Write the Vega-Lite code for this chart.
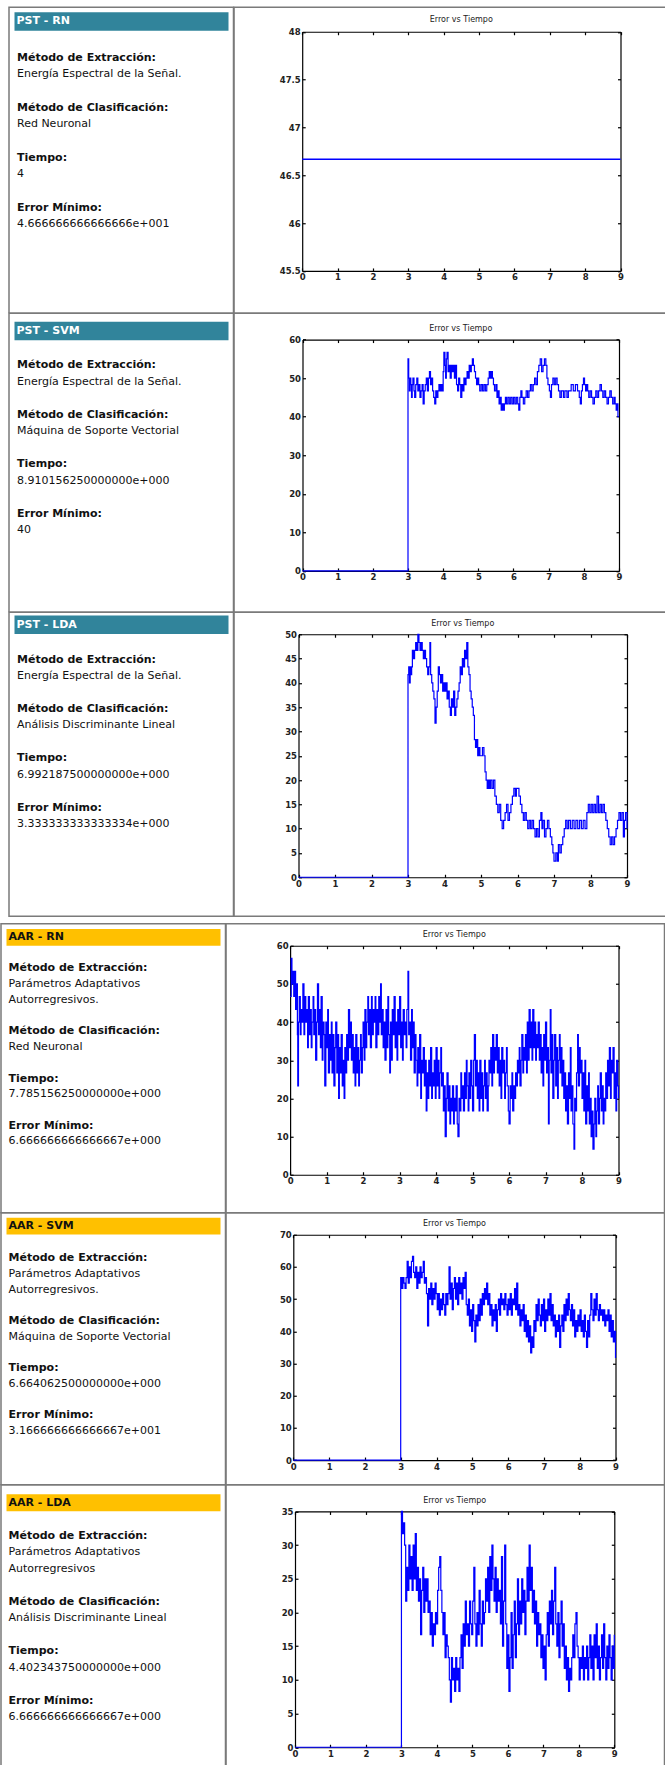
{
  "$schema": "https://vega.github.io/schema/vega-lite/v6.json",
  "background": "white",
  "padding": {"left": 0, "top": 6.25, "right": 0, "bottom": 0},
  "config": {
    "view": {"stroke": null},
    "title": {"font": "DejaVu Sans", "fontSize": 8, "fontWeight": "normal", "color": "#222", "anchor": "middle"},
    "axis": {"grid": false, "domainColor": "#000", "domainWidth": 1.2, "tickColor": "#000", "tickWidth": 1.2, "tickSize": -3,
             "labelFont": "DejaVu Sans", "labelFontSize": 8.5, "labelFontWeight": "bold", "labelColor": "#222",
             "labelPadding": 5, "labelFlush": false, "labelOverlap": false, "labelBound": false}
  },
  "datasets": {
    "texts": [
      {"panel": "PST - RN", "line": 0, "kind": "head", "txt": "PST - RN"},
      {"panel": "PST - RN", "line": 1, "kind": "label", "txt": "Método de Extracción:"},
      {"panel": "PST - RN", "line": 2, "kind": "value", "txt": "Energía Espectral de la Señal."},
      {"panel": "PST - RN", "line": 4, "kind": "label", "txt": "Método de Clasificación:"},
      {"panel": "PST - RN", "line": 5, "kind": "value", "txt": "Red Neuronal"},
      {"panel": "PST - RN", "line": 7, "kind": "label", "txt": "Tiempo:"},
      {"panel": "PST - RN", "line": 8, "kind": "value", "txt": "4"},
      {"panel": "PST - RN", "line": 10, "kind": "label", "txt": "Error Mínimo:"},
      {"panel": "PST - RN", "line": 11, "kind": "value", "txt": "4.666666666666666e+001"},
      {"panel": "PST - SVM", "line": 0, "kind": "head", "txt": "PST - SVM"},
      {"panel": "PST - SVM", "line": 1, "kind": "label", "txt": "Método de Extracción:"},
      {"panel": "PST - SVM", "line": 2, "kind": "value", "txt": "Energía Espectral de la Señal."},
      {"panel": "PST - SVM", "line": 4, "kind": "label", "txt": "Método de Clasificación:"},
      {"panel": "PST - SVM", "line": 5, "kind": "value", "txt": "Máquina de Soporte Vectorial"},
      {"panel": "PST - SVM", "line": 7, "kind": "label", "txt": "Tiempo:"},
      {"panel": "PST - SVM", "line": 8, "kind": "value", "txt": "8.910156250000000e+000"},
      {"panel": "PST - SVM", "line": 10, "kind": "label", "txt": "Error Mínimo:"},
      {"panel": "PST - SVM", "line": 11, "kind": "value", "txt": "40"},
      {"panel": "PST - LDA", "line": 0, "kind": "head", "txt": "PST - LDA"},
      {"panel": "PST - LDA", "line": 1, "kind": "label", "txt": "Método de Extracción:"},
      {"panel": "PST - LDA", "line": 2, "kind": "value", "txt": "Energía Espectral de la Señal."},
      {"panel": "PST - LDA", "line": 4, "kind": "label", "txt": "Método de Clasificación:"},
      {"panel": "PST - LDA", "line": 5, "kind": "value", "txt": "Análisis Discriminante Lineal"},
      {"panel": "PST - LDA", "line": 7, "kind": "label", "txt": "Tiempo:"},
      {"panel": "PST - LDA", "line": 8, "kind": "value", "txt": "6.992187500000000e+000"},
      {"panel": "PST - LDA", "line": 10, "kind": "label", "txt": "Error Mínimo:"},
      {"panel": "PST - LDA", "line": 11, "kind": "value", "txt": "3.333333333333334e+000"},
      {"panel": "AAR - RN", "line": 0, "kind": "head", "txt": "AAR - RN"},
      {"panel": "AAR - RN", "line": 1, "kind": "label", "txt": "Método de Extracción:"},
      {"panel": "AAR - RN", "line": 2, "kind": "value", "txt": "Parámetros Adaptativos"},
      {"panel": "AAR - RN", "line": 3, "kind": "value", "txt": "Autorregresivos."},
      {"panel": "AAR - RN", "line": 5, "kind": "label", "txt": "Método de Clasificación:"},
      {"panel": "AAR - RN", "line": 6, "kind": "value", "txt": "Red Neuronal"},
      {"panel": "AAR - RN", "line": 8, "kind": "label", "txt": "Tiempo:"},
      {"panel": "AAR - RN", "line": 9, "kind": "value", "txt": "7.785156250000000e+000"},
      {"panel": "AAR - RN", "line": 11, "kind": "label", "txt": "Error Mínimo:"},
      {"panel": "AAR - RN", "line": 12, "kind": "value", "txt": "6.666666666666667e+000"},
      {"panel": "AAR - SVM", "line": 0, "kind": "head", "txt": "AAR - SVM"},
      {"panel": "AAR - SVM", "line": 1, "kind": "label", "txt": "Método de Extracción:"},
      {"panel": "AAR - SVM", "line": 2, "kind": "value", "txt": "Parámetros Adaptativos"},
      {"panel": "AAR - SVM", "line": 3, "kind": "value", "txt": "Autorregresivos."},
      {"panel": "AAR - SVM", "line": 5, "kind": "label", "txt": "Método de Clasificación:"},
      {"panel": "AAR - SVM", "line": 6, "kind": "value", "txt": "Máquina de Soporte Vectorial"},
      {"panel": "AAR - SVM", "line": 8, "kind": "label", "txt": "Tiempo:"},
      {"panel": "AAR - SVM", "line": 9, "kind": "value", "txt": "6.664062500000000e+000"},
      {"panel": "AAR - SVM", "line": 11, "kind": "label", "txt": "Error Mínimo:"},
      {"panel": "AAR - SVM", "line": 12, "kind": "value", "txt": "3.166666666666667e+001"},
      {"panel": "AAR - LDA", "line": 0, "kind": "head", "txt": "AAR - LDA"},
      {"panel": "AAR - LDA", "line": 1, "kind": "label", "txt": "Método de Extracción:"},
      {"panel": "AAR - LDA", "line": 2, "kind": "value", "txt": "Parámetros Adaptativos"},
      {"panel": "AAR - LDA", "line": 3, "kind": "value", "txt": "Autorregresivos"},
      {"panel": "AAR - LDA", "line": 5, "kind": "label", "txt": "Método de Clasificación:"},
      {"panel": "AAR - LDA", "line": 6, "kind": "value", "txt": "Análisis Discriminante Lineal"},
      {"panel": "AAR - LDA", "line": 8, "kind": "label", "txt": "Tiempo:"},
      {"panel": "AAR - LDA", "line": 9, "kind": "value", "txt": "4.402343750000000e+000"},
      {"panel": "AAR - LDA", "line": 11, "kind": "label", "txt": "Error Mínimo:"},
      {"panel": "AAR - LDA", "line": 12, "kind": "value", "txt": "6.666666666666667e+000"}
    ],
    "pst_rn": [{"t": 0, "e": 46.667}, {"t": 9, "e": 46.667}],
    "pst_svm": [
      {"t":0,"e":0},{"t":3.0,"e":55},{"t":3.02,"e":50},{"t":3.04,"e":46.7},{"t":3.06,"e":50},{"t":3.08,"e":48.3},{"t":3.1,"e":45},{"t":3.12,"e":48.3},{"t":3.14,"e":50},{"t":3.17,"e":46.7},{"t":3.19,"e":45},{"t":3.22,"e":48.3},{"t":3.25,"e":50},{"t":3.28,"e":46.7},{"t":3.31,"e":48.3},{"t":3.34,"e":45},{"t":3.37,"e":46.7},{"t":3.4,"e":48.3},{"t":3.43,"e":43.3},{"t":3.46,"e":46.7},{"t":3.49,"e":48.3},{"t":3.52,"e":50},{"t":3.55,"e":46.7},{"t":3.58,"e":50},{"t":3.61,"e":51.7},{"t":3.64,"e":48.3},{"t":3.67,"e":50},{"t":3.7,"e":46.7},{"t":3.73,"e":45},{"t":3.76,"e":43.3},{"t":3.79,"e":46.7},{"t":3.82,"e":45},{"t":3.85,"e":46.7},{"t":3.88,"e":48.3},{"t":3.91,"e":46.7},{"t":3.94,"e":48.3},{"t":3.97,"e":46.7},{"t":4.0,"e":51.7},{"t":4.02,"e":56.7},{"t":4.05,"e":53.3},{"t":4.07,"e":50},{"t":4.09,"e":55},{"t":4.11,"e":56.7},{"t":4.14,"e":51.7},{"t":4.17,"e":53.3},{"t":4.2,"e":50},{"t":4.23,"e":53.3},{"t":4.26,"e":51.7},{"t":4.29,"e":53.3},{"t":4.32,"e":50},{"t":4.35,"e":53.3},{"t":4.38,"e":48.3},{"t":4.41,"e":46.7},{"t":4.44,"e":50},{"t":4.47,"e":48.3},{"t":4.5,"e":45},{"t":4.53,"e":48.3},{"t":4.56,"e":46.7},{"t":4.59,"e":50},{"t":4.62,"e":48.3},{"t":4.65,"e":50},{"t":4.68,"e":51.7},{"t":4.71,"e":50},{"t":4.74,"e":53.3},{"t":4.77,"e":51.7},{"t":4.8,"e":53.3},{"t":4.83,"e":55},{"t":4.86,"e":53.3},{"t":4.89,"e":51.7},{"t":4.92,"e":50},{"t":4.95,"e":48.3},{"t":4.98,"e":50},{"t":5.01,"e":48.3},{"t":5.04,"e":46.7},{"t":5.08,"e":48.3},{"t":5.12,"e":46.7},{"t":5.16,"e":48.3},{"t":5.2,"e":46.7},{"t":5.24,"e":48.3},{"t":5.28,"e":50},{"t":5.31,"e":51.7},{"t":5.34,"e":50},{"t":5.37,"e":51.7},{"t":5.4,"e":50},{"t":5.43,"e":48.3},{"t":5.46,"e":46.7},{"t":5.5,"e":48.3},{"t":5.53,"e":45},{"t":5.56,"e":46.7},{"t":5.59,"e":43.3},{"t":5.62,"e":45},{"t":5.65,"e":41.7},{"t":5.68,"e":43.3},{"t":5.71,"e":41.7},{"t":5.74,"e":43.3},{"t":5.77,"e":45},{"t":5.8,"e":43.3},{"t":5.84,"e":45},{"t":5.88,"e":43.3},{"t":5.92,"e":45},{"t":5.96,"e":43.3},{"t":6.0,"e":45},{"t":6.04,"e":43.3},{"t":6.08,"e":45},{"t":6.12,"e":43.3},{"t":6.15,"e":41.7},{"t":6.18,"e":45},{"t":6.21,"e":46.7},{"t":6.24,"e":45},{"t":6.28,"e":43.3},{"t":6.32,"e":45},{"t":6.36,"e":46.7},{"t":6.4,"e":45},{"t":6.44,"e":46.7},{"t":6.48,"e":48.3},{"t":6.52,"e":46.7},{"t":6.56,"e":48.3},{"t":6.6,"e":50},{"t":6.64,"e":48.3},{"t":6.68,"e":51.7},{"t":6.72,"e":53.3},{"t":6.76,"e":55},{"t":6.8,"e":51.7},{"t":6.84,"e":53.3},{"t":6.88,"e":55},{"t":6.92,"e":53.3},{"t":6.95,"e":50},{"t":6.98,"e":48.3},{"t":7.02,"e":46.7},{"t":7.05,"e":45},{"t":7.08,"e":48.3},{"t":7.12,"e":50},{"t":7.16,"e":48.3},{"t":7.2,"e":50},{"t":7.24,"e":48.3},{"t":7.28,"e":46.7},{"t":7.32,"e":45},{"t":7.36,"e":46.7},{"t":7.42,"e":45},{"t":7.46,"e":46.7},{"t":7.52,"e":45},{"t":7.56,"e":46.7},{"t":7.64,"e":48.3},{"t":7.7,"e":46.7},{"t":7.76,"e":48.3},{"t":7.82,"e":46.7},{"t":7.87,"e":45},{"t":7.9,"e":43.3},{"t":7.93,"e":46.7},{"t":7.96,"e":48.3},{"t":7.99,"e":50},{"t":8.02,"e":48.3},{"t":8.05,"e":46.7},{"t":8.08,"e":48.3},{"t":8.11,"e":46.7},{"t":8.14,"e":45},{"t":8.18,"e":46.7},{"t":8.22,"e":45},{"t":8.26,"e":43.3},{"t":8.3,"e":45},{"t":8.34,"e":46.7},{"t":8.38,"e":45},{"t":8.42,"e":46.7},{"t":8.46,"e":48.3},{"t":8.5,"e":46.7},{"t":8.54,"e":45},{"t":8.58,"e":46.7},{"t":8.62,"e":45},{"t":8.66,"e":43.3},{"t":8.7,"e":45},{"t":8.74,"e":46.7},{"t":8.78,"e":45},{"t":8.82,"e":43.3},{"t":8.86,"e":45},{"t":8.89,"e":43.3},{"t":8.92,"e":41.7},{"t":8.95,"e":43.3},{"t":8.97,"e":40},{"t":9.0,"e":40}
    ],
    "pst_lda": [
      {"t":0,"e":0},{"t":3.0,"e":41.7},{"t":3.02,"e":43.3},{"t":3.04,"e":40},{"t":3.06,"e":43.3},{"t":3.08,"e":41.7},{"t":3.1,"e":43.3},{"t":3.12,"e":46.7},{"t":3.15,"e":45},{"t":3.18,"e":46.7},{"t":3.21,"e":48.3},{"t":3.24,"e":46.7},{"t":3.27,"e":50},{"t":3.3,"e":48.3},{"t":3.33,"e":46.7},{"t":3.36,"e":48.3},{"t":3.39,"e":46.7},{"t":3.42,"e":45},{"t":3.45,"e":46.7},{"t":3.48,"e":45},{"t":3.51,"e":43.3},{"t":3.54,"e":41.7},{"t":3.57,"e":43.3},{"t":3.6,"e":48.3},{"t":3.62,"e":41.7},{"t":3.65,"e":40},{"t":3.68,"e":38.3},{"t":3.71,"e":36.7},{"t":3.74,"e":31.7},{"t":3.77,"e":35},{"t":3.8,"e":38.3},{"t":3.83,"e":43.3},{"t":3.86,"e":41.7},{"t":3.89,"e":40},{"t":3.92,"e":41.7},{"t":3.95,"e":38.3},{"t":3.98,"e":40},{"t":4.01,"e":38.3},{"t":4.04,"e":40},{"t":4.07,"e":36.7},{"t":4.1,"e":38.3},{"t":4.13,"e":35},{"t":4.16,"e":33.3},{"t":4.19,"e":36.7},{"t":4.22,"e":35},{"t":4.25,"e":38.3},{"t":4.28,"e":33.3},{"t":4.31,"e":35},{"t":4.34,"e":36.7},{"t":4.37,"e":38.3},{"t":4.4,"e":40},{"t":4.43,"e":43.3},{"t":4.46,"e":41.7},{"t":4.49,"e":45},{"t":4.52,"e":43.3},{"t":4.55,"e":46.7},{"t":4.58,"e":45},{"t":4.61,"e":48.3},{"t":4.64,"e":43.3},{"t":4.67,"e":41.7},{"t":4.7,"e":38.3},{"t":4.73,"e":36.7},{"t":4.76,"e":35},{"t":4.79,"e":33.3},{"t":4.82,"e":28.3},{"t":4.85,"e":26.7},{"t":4.88,"e":28.3},{"t":4.91,"e":25},{"t":4.94,"e":26.7},{"t":4.97,"e":25},{"t":5.04,"e":26.7},{"t":5.08,"e":25},{"t":5.11,"e":21.7},{"t":5.14,"e":20},{"t":5.17,"e":18.3},{"t":5.2,"e":20},{"t":5.23,"e":18.3},{"t":5.26,"e":20},{"t":5.3,"e":18.3},{"t":5.34,"e":20},{"t":5.38,"e":16.7},{"t":5.42,"e":15},{"t":5.46,"e":13.3},{"t":5.5,"e":15},{"t":5.54,"e":11.7},{"t":5.58,"e":10},{"t":5.62,"e":11.7},{"t":5.66,"e":13.3},{"t":5.7,"e":15},{"t":5.74,"e":11.7},{"t":5.78,"e":13.3},{"t":5.82,"e":15},{"t":5.86,"e":16.7},{"t":5.9,"e":18.3},{"t":5.94,"e":16.7},{"t":5.97,"e":18.3},{"t":6.0,"e":18.3},{"t":6.04,"e":16.7},{"t":6.08,"e":15},{"t":6.12,"e":13.3},{"t":6.16,"e":11.7},{"t":6.2,"e":13.3},{"t":6.24,"e":11.7},{"t":6.28,"e":10},{"t":6.32,"e":11.7},{"t":6.36,"e":10},{"t":6.4,"e":11.7},{"t":6.44,"e":10},{"t":6.48,"e":8.3},{"t":6.52,"e":10},{"t":6.56,"e":8.3},{"t":6.6,"e":11.7},{"t":6.64,"e":13.3},{"t":6.67,"e":10},{"t":6.7,"e":11.7},{"t":6.74,"e":8.3},{"t":6.78,"e":10},{"t":6.82,"e":11.7},{"t":6.86,"e":10},{"t":6.9,"e":8.3},{"t":6.94,"e":6.7},{"t":6.97,"e":5},{"t":7.0,"e":3.3},{"t":7.05,"e":5},{"t":7.09,"e":3.3},{"t":7.12,"e":6.7},{"t":7.16,"e":5},{"t":7.2,"e":6.7},{"t":7.24,"e":8.3},{"t":7.28,"e":10},{"t":7.32,"e":11.7},{"t":7.36,"e":10},{"t":7.4,"e":11.7},{"t":7.45,"e":10},{"t":7.5,"e":11.7},{"t":7.55,"e":10},{"t":7.6,"e":11.7},{"t":7.65,"e":10},{"t":7.7,"e":11.7},{"t":7.75,"e":10},{"t":7.8,"e":11.7},{"t":7.85,"e":10},{"t":7.9,"e":13.3},{"t":7.94,"e":15},{"t":7.98,"e":13.3},{"t":8.02,"e":15},{"t":8.06,"e":13.3},{"t":8.1,"e":15},{"t":8.14,"e":13.3},{"t":8.18,"e":16.7},{"t":8.22,"e":13.3},{"t":8.26,"e":15},{"t":8.3,"e":13.3},{"t":8.34,"e":15},{"t":8.38,"e":13.3},{"t":8.42,"e":11.7},{"t":8.46,"e":10},{"t":8.5,"e":8.3},{"t":8.54,"e":6.7},{"t":8.58,"e":8.3},{"t":8.62,"e":6.7},{"t":8.66,"e":8.3},{"t":8.7,"e":10},{"t":8.74,"e":11.7},{"t":8.78,"e":13.3},{"t":8.82,"e":11.7},{"t":8.86,"e":13.3},{"t":8.9,"e":8.3},{"t":8.93,"e":11.7},{"t":8.96,"e":13.3},{"t":9.0,"e":10}
    ],
    "aar_rn": [
      {"t":0.0,"e":46.7},{"t":0.03,"e":56.7},{"t":0.05,"e":50},{"t":0.08,"e":53.3},{"t":0.1,"e":46.7},{"t":0.13,"e":53.3},{"t":0.15,"e":43.3},{"t":0.18,"e":50},{"t":0.2,"e":36.7},{"t":0.21,"e":23.3},{"t":0.23,"e":40},{"t":0.25,"e":46.7},{"t":0.28,"e":36.7},{"t":0.3,"e":43.3},{"t":0.33,"e":40},{"t":0.35,"e":50},{"t":0.38,"e":36.7},{"t":0.4,"e":46.7},{"t":0.43,"e":40},{"t":0.45,"e":43.3},{"t":0.48,"e":33.3},{"t":0.5,"e":46.7},{"t":0.53,"e":36.7},{"t":0.55,"e":43.3},{"t":0.58,"e":33.3},{"t":0.6,"e":40},{"t":0.63,"e":46.7},{"t":0.65,"e":36.7},{"t":0.68,"e":43.3},{"t":0.7,"e":30},{"t":0.73,"e":40},{"t":0.75,"e":50},{"t":0.78,"e":36.7},{"t":0.8,"e":43.3},{"t":0.83,"e":33.3},{"t":0.85,"e":46.7},{"t":0.88,"e":30},{"t":0.9,"e":40},{"t":0.93,"e":36.7},{"t":0.95,"e":23.3},{"t":0.98,"e":40},
      {"t":1.0,"e":33.3},{"t":1.03,"e":43.3},{"t":1.05,"e":26.7},{"t":1.08,"e":36.7},{"t":1.1,"e":30},{"t":1.13,"e":40},{"t":1.15,"e":26.7},{"t":1.18,"e":36.7},{"t":1.2,"e":23.3},{"t":1.23,"e":33.3},{"t":1.25,"e":40},{"t":1.28,"e":26.7},{"t":1.3,"e":36.7},{"t":1.33,"e":20},{"t":1.35,"e":33.3},{"t":1.38,"e":26.7},{"t":1.4,"e":36.7},{"t":1.43,"e":23.3},{"t":1.45,"e":30},{"t":1.48,"e":20},{"t":1.5,"e":33.3},{"t":1.53,"e":26.7},{"t":1.55,"e":36.7},{"t":1.58,"e":30},{"t":1.6,"e":43.3},{"t":1.63,"e":33.3},{"t":1.65,"e":40},{"t":1.68,"e":30},{"t":1.7,"e":36.7},{"t":1.73,"e":26.7},{"t":1.75,"e":33.3},{"t":1.78,"e":23.3},{"t":1.8,"e":36.7},{"t":1.83,"e":26.7},{"t":1.85,"e":33.3},{"t":1.88,"e":23.3},{"t":1.9,"e":30},{"t":1.93,"e":36.7},{"t":1.95,"e":26.7},{"t":1.98,"e":33.3},
      {"t":2.0,"e":40},{"t":2.03,"e":30},{"t":2.05,"e":43.3},{"t":2.08,"e":33.3},{"t":2.1,"e":40},{"t":2.13,"e":46.7},{"t":2.15,"e":36.7},{"t":2.18,"e":43.3},{"t":2.2,"e":33.3},{"t":2.23,"e":46.7},{"t":2.25,"e":36.7},{"t":2.28,"e":43.3},{"t":2.3,"e":40},{"t":2.33,"e":46.7},{"t":2.35,"e":33.3},{"t":2.38,"e":43.3},{"t":2.4,"e":36.7},{"t":2.43,"e":46.7},{"t":2.45,"e":40},{"t":2.48,"e":50},{"t":2.5,"e":36.7},{"t":2.53,"e":43.3},{"t":2.55,"e":33.3},{"t":2.58,"e":40},{"t":2.6,"e":30},{"t":2.63,"e":43.3},{"t":2.65,"e":33.3},{"t":2.68,"e":46.7},{"t":2.7,"e":36.7},{"t":2.73,"e":26.7},{"t":2.75,"e":40},{"t":2.78,"e":30},{"t":2.8,"e":43.3},{"t":2.83,"e":36.7},{"t":2.85,"e":46.7},{"t":2.88,"e":33.3},{"t":2.9,"e":40},{"t":2.93,"e":30},{"t":2.95,"e":43.3},{"t":2.98,"e":36.7},
      {"t":3.0,"e":46.7},{"t":3.03,"e":33.3},{"t":3.05,"e":40},{"t":3.08,"e":30},{"t":3.1,"e":43.3},{"t":3.13,"e":36.7},{"t":3.15,"e":40},{"t":3.18,"e":33.3},{"t":3.2,"e":43.3},{"t":3.23,"e":53.3},{"t":3.25,"e":36.7},{"t":3.28,"e":40},{"t":3.3,"e":30},{"t":3.33,"e":43.3},{"t":3.35,"e":33.3},{"t":3.38,"e":40},{"t":3.4,"e":26.7},{"t":3.43,"e":36.7},{"t":3.45,"e":30},{"t":3.48,"e":23.3},{"t":3.5,"e":33.3},{"t":3.53,"e":26.7},{"t":3.55,"e":36.7},{"t":3.58,"e":20},{"t":3.6,"e":30},{"t":3.63,"e":26.7},{"t":3.65,"e":33.3},{"t":3.68,"e":23.3},{"t":3.7,"e":30},{"t":3.73,"e":16.7},{"t":3.75,"e":26.7},{"t":3.78,"e":20},{"t":3.8,"e":30},{"t":3.83,"e":23.3},{"t":3.85,"e":33.3},{"t":3.88,"e":20},{"t":3.9,"e":26.7},{"t":3.93,"e":23.3},{"t":3.95,"e":30},{"t":3.98,"e":20},
      {"t":4.0,"e":33.3},{"t":4.03,"e":23.3},{"t":4.05,"e":30},{"t":4.08,"e":20},{"t":4.1,"e":26.7},{"t":4.13,"e":33.3},{"t":4.15,"e":23.3},{"t":4.18,"e":26.7},{"t":4.2,"e":16.7},{"t":4.23,"e":23.3},{"t":4.25,"e":10},{"t":4.28,"e":20},{"t":4.3,"e":26.7},{"t":4.33,"e":16.7},{"t":4.35,"e":23.3},{"t":4.38,"e":13.3},{"t":4.4,"e":20},{"t":4.43,"e":16.7},{"t":4.45,"e":23.3},{"t":4.48,"e":13.3},{"t":4.5,"e":20},{"t":4.53,"e":16.7},{"t":4.55,"e":23.3},{"t":4.58,"e":13.3},{"t":4.6,"e":10},{"t":4.63,"e":20},{"t":4.65,"e":16.7},{"t":4.68,"e":26.7},{"t":4.7,"e":20},{"t":4.73,"e":23.3},{"t":4.75,"e":16.7},{"t":4.78,"e":26.7},{"t":4.8,"e":20},{"t":4.83,"e":30},{"t":4.85,"e":23.3},{"t":4.88,"e":16.7},{"t":4.9,"e":26.7},{"t":4.93,"e":20},{"t":4.95,"e":30},{"t":4.98,"e":23.3},
      {"t":5.0,"e":16.7},{"t":5.03,"e":30},{"t":5.05,"e":36.7},{"t":5.08,"e":23.3},{"t":5.1,"e":30},{"t":5.13,"e":20},{"t":5.15,"e":26.7},{"t":5.18,"e":16.7},{"t":5.2,"e":30},{"t":5.23,"e":20},{"t":5.25,"e":26.7},{"t":5.28,"e":16.7},{"t":5.3,"e":23.3},{"t":5.33,"e":30},{"t":5.35,"e":20},{"t":5.38,"e":26.7},{"t":5.4,"e":16.7},{"t":5.43,"e":23.3},{"t":5.45,"e":30},{"t":5.48,"e":26.7},{"t":5.5,"e":33.3},{"t":5.53,"e":23.3},{"t":5.55,"e":36.7},{"t":5.58,"e":26.7},{"t":5.6,"e":33.3},{"t":5.63,"e":30},{"t":5.65,"e":36.7},{"t":5.68,"e":26.7},{"t":5.7,"e":33.3},{"t":5.73,"e":23.3},{"t":5.75,"e":30},{"t":5.78,"e":20},{"t":5.8,"e":33.3},{"t":5.83,"e":26.7},{"t":5.85,"e":30},{"t":5.88,"e":20},{"t":5.9,"e":26.7},{"t":5.93,"e":33.3},{"t":5.95,"e":23.3},{"t":5.98,"e":16.7},
      {"t":6.0,"e":13.3},{"t":6.03,"e":23.3},{"t":6.05,"e":20},{"t":6.08,"e":26.7},{"t":6.1,"e":16.7},{"t":6.13,"e":23.3},{"t":6.15,"e":20},{"t":6.18,"e":26.7},{"t":6.2,"e":23.3},{"t":6.23,"e":30},{"t":6.25,"e":26.7},{"t":6.28,"e":33.3},{"t":6.3,"e":23.3},{"t":6.33,"e":30},{"t":6.35,"e":36.7},{"t":6.38,"e":26.7},{"t":6.4,"e":33.3},{"t":6.43,"e":30},{"t":6.45,"e":36.7},{"t":6.48,"e":26.7},{"t":6.5,"e":40},{"t":6.53,"e":30},{"t":6.55,"e":43.3},{"t":6.58,"e":33.3},{"t":6.6,"e":40},{"t":6.63,"e":30},{"t":6.65,"e":43.3},{"t":6.68,"e":33.3},{"t":6.7,"e":40},{"t":6.73,"e":30},{"t":6.75,"e":36.7},{"t":6.78,"e":33.3},{"t":6.8,"e":40},{"t":6.83,"e":30},{"t":6.85,"e":36.7},{"t":6.88,"e":26.7},{"t":6.9,"e":33.3},{"t":6.93,"e":23.3},{"t":6.95,"e":36.7},{"t":6.98,"e":30},
      {"t":7.0,"e":40},{"t":7.03,"e":26.7},{"t":7.05,"e":33.3},{"t":7.08,"e":13.3},{"t":7.1,"e":30},{"t":7.13,"e":43.3},{"t":7.15,"e":26.7},{"t":7.18,"e":36.7},{"t":7.2,"e":20},{"t":7.23,"e":30},{"t":7.25,"e":36.7},{"t":7.28,"e":23.3},{"t":7.3,"e":33.3},{"t":7.33,"e":20},{"t":7.35,"e":30},{"t":7.38,"e":36.7},{"t":7.4,"e":26.7},{"t":7.43,"e":33.3},{"t":7.45,"e":23.3},{"t":7.48,"e":30},{"t":7.5,"e":20},{"t":7.53,"e":26.7},{"t":7.55,"e":16.7},{"t":7.58,"e":23.3},{"t":7.6,"e":13.3},{"t":7.63,"e":26.7},{"t":7.65,"e":20},{"t":7.68,"e":33.3},{"t":7.7,"e":16.7},{"t":7.73,"e":23.3},{"t":7.75,"e":13.3},{"t":7.78,"e":6.7},{"t":7.8,"e":20},{"t":7.83,"e":16.7},{"t":7.85,"e":26.7},{"t":7.88,"e":36.7},{"t":7.9,"e":23.3},{"t":7.93,"e":33.3},{"t":7.95,"e":26.7},{"t":7.98,"e":30},
      {"t":8.0,"e":20},{"t":8.03,"e":26.7},{"t":8.05,"e":16.7},{"t":8.08,"e":30},{"t":8.1,"e":13.3},{"t":8.13,"e":23.3},{"t":8.15,"e":16.7},{"t":8.18,"e":26.7},{"t":8.2,"e":13.3},{"t":8.23,"e":20},{"t":8.25,"e":10},{"t":8.28,"e":16.7},{"t":8.3,"e":6.7},{"t":8.33,"e":13.3},{"t":8.35,"e":20},{"t":8.38,"e":10},{"t":8.4,"e":16.7},{"t":8.43,"e":23.3},{"t":8.45,"e":13.3},{"t":8.48,"e":20},{"t":8.5,"e":26.7},{"t":8.53,"e":16.7},{"t":8.55,"e":23.3},{"t":8.58,"e":13.3},{"t":8.6,"e":20},{"t":8.63,"e":16.7},{"t":8.65,"e":26.7},{"t":8.68,"e":20},{"t":8.7,"e":30},{"t":8.73,"e":23.3},{"t":8.75,"e":33.3},{"t":8.78,"e":20},{"t":8.8,"e":30},{"t":8.83,"e":26.7},{"t":8.85,"e":33.3},{"t":8.88,"e":20},{"t":8.9,"e":26.7},{"t":8.93,"e":16.7},{"t":8.95,"e":30},{"t":8.98,"e":23.3},{"t":9.0,"e":20}
    ],
    "aar_svm": [
      {"t":0,"e":0},{"t":3.0,"e":56.7},{"t":3.03,"e":53.3},{"t":3.06,"e":56.7},{"t":3.09,"e":55},{"t":3.12,"e":53.3},{"t":3.15,"e":56.7},{"t":3.18,"e":61.7},{"t":3.21,"e":55},{"t":3.24,"e":60},{"t":3.27,"e":56.7},{"t":3.3,"e":61.7},{"t":3.33,"e":63.3},{"t":3.36,"e":58.3},{"t":3.39,"e":56.7},{"t":3.42,"e":60},{"t":3.45,"e":53.3},{"t":3.48,"e":58.3},{"t":3.51,"e":55},{"t":3.54,"e":60},{"t":3.57,"e":56.7},{"t":3.6,"e":58.3},{"t":3.63,"e":61.7},{"t":3.66,"e":55},{"t":3.69,"e":56.7},{"t":3.72,"e":51.7},{"t":3.75,"e":41.7},{"t":3.78,"e":53.3},{"t":3.81,"e":50},{"t":3.84,"e":55},{"t":3.87,"e":48.3},{"t":3.9,"e":53.3},{"t":3.93,"e":50},{"t":3.96,"e":55},{"t":3.99,"e":51.7},{"t":4.02,"e":46.7},{"t":4.05,"e":51.7},{"t":4.08,"e":45},{"t":4.11,"e":50},{"t":4.14,"e":46.7},{"t":4.17,"e":51.7},{"t":4.2,"e":48.3},{"t":4.23,"e":45},{"t":4.26,"e":51.7},{"t":4.29,"e":48.3},{"t":4.32,"e":51.7},{"t":4.35,"e":60},{"t":4.38,"e":50},{"t":4.41,"e":55},{"t":4.44,"e":46.7},{"t":4.47,"e":53.3},{"t":4.5,"e":56.7},{"t":4.53,"e":50},{"t":4.56,"e":55},{"t":4.59,"e":48.3},{"t":4.62,"e":56.7},{"t":4.65,"e":51.7},{"t":4.68,"e":55},{"t":4.71,"e":50},{"t":4.74,"e":56.7},{"t":4.77,"e":53.3},{"t":4.8,"e":58.3},{"t":4.83,"e":48.3},{"t":4.86,"e":45},{"t":4.89,"e":50},{"t":4.92,"e":41.7},{"t":4.95,"e":46.7},{"t":4.98,"e":40},{"t":5.01,"e":48.3},{"t":5.04,"e":43.3},{"t":5.07,"e":36.7},{"t":5.1,"e":45},{"t":5.13,"e":41.7},{"t":5.16,"e":48.3},{"t":5.19,"e":43.3},{"t":5.22,"e":50},{"t":5.25,"e":45},{"t":5.28,"e":51.7},{"t":5.31,"e":48.3},{"t":5.34,"e":53.3},{"t":5.37,"e":50},{"t":5.4,"e":55},{"t":5.43,"e":48.3},{"t":5.46,"e":51.7},{"t":5.49,"e":45},{"t":5.52,"e":48.3},{"t":5.55,"e":41.7},{"t":5.58,"e":46.7},{"t":5.61,"e":43.3},{"t":5.64,"e":48.3},{"t":5.67,"e":40},{"t":5.7,"e":46.7},{"t":5.73,"e":50},{"t":5.76,"e":45},{"t":5.79,"e":51.7},{"t":5.82,"e":48.3},{"t":5.85,"e":50},{"t":5.88,"e":46.7},{"t":5.91,"e":51.7},{"t":5.94,"e":48.3},{"t":5.97,"e":45},{"t":6.0,"e":50},{"t":6.03,"e":46.7},{"t":6.06,"e":51.7},{"t":6.09,"e":45},{"t":6.12,"e":50},{"t":6.15,"e":48.3},{"t":6.18,"e":53.3},{"t":6.21,"e":46.7},{"t":6.24,"e":55},{"t":6.27,"e":45},{"t":6.3,"e":48.3},{"t":6.33,"e":41.7},{"t":6.36,"e":46.7},{"t":6.39,"e":43.3},{"t":6.42,"e":48.3},{"t":6.45,"e":40},{"t":6.48,"e":45},{"t":6.51,"e":38.3},{"t":6.54,"e":43.3},{"t":6.57,"e":36.7},{"t":6.6,"e":41.7},{"t":6.63,"e":33.3},{"t":6.66,"e":38.3},{"t":6.69,"e":35},{"t":6.72,"e":43.3},{"t":6.75,"e":40},{"t":6.78,"e":48.3},{"t":6.81,"e":43.3},{"t":6.84,"e":50},{"t":6.87,"e":45},{"t":6.9,"e":41.7},{"t":6.93,"e":48.3},{"t":6.96,"e":43.3},{"t":6.99,"e":50},{"t":7.02,"e":40},{"t":7.05,"e":46.7},{"t":7.08,"e":43.3},{"t":7.11,"e":50},{"t":7.14,"e":45},{"t":7.17,"e":51.7},{"t":7.2,"e":43.3},{"t":7.23,"e":48.3},{"t":7.26,"e":41.7},{"t":7.29,"e":45},{"t":7.32,"e":38.3},{"t":7.35,"e":43.3},{"t":7.38,"e":40},{"t":7.41,"e":45},{"t":7.44,"e":35},{"t":7.47,"e":41.7},{"t":7.5,"e":45},{"t":7.53,"e":40},{"t":7.56,"e":48.3},{"t":7.59,"e":43.3},{"t":7.62,"e":50},{"t":7.65,"e":45},{"t":7.68,"e":51.7},{"t":7.71,"e":46.7},{"t":7.74,"e":43.3},{"t":7.77,"e":48.3},{"t":7.8,"e":41.7},{"t":7.83,"e":46.7},{"t":7.86,"e":38.3},{"t":7.89,"e":43.3},{"t":7.92,"e":40},{"t":7.95,"e":45},{"t":7.98,"e":41.7},{"t":8.01,"e":46.7},{"t":8.04,"e":40},{"t":8.07,"e":43.3},{"t":8.1,"e":38.3},{"t":8.13,"e":45},{"t":8.16,"e":40},{"t":8.19,"e":35},{"t":8.22,"e":43.3},{"t":8.25,"e":38.3},{"t":8.28,"e":45},{"t":8.31,"e":51.7},{"t":8.34,"e":46.7},{"t":8.37,"e":43.3},{"t":8.4,"e":50},{"t":8.43,"e":45},{"t":8.46,"e":51.7},{"t":8.49,"e":46.7},{"t":8.52,"e":43.3},{"t":8.55,"e":48.3},{"t":8.58,"e":45},{"t":8.61,"e":46.7},{"t":8.64,"e":43.3},{"t":8.67,"e":46.7},{"t":8.7,"e":41.7},{"t":8.73,"e":45},{"t":8.76,"e":43.3},{"t":8.79,"e":46.7},{"t":8.82,"e":40},{"t":8.85,"e":45},{"t":8.88,"e":38.3},{"t":8.91,"e":43.3},{"t":8.94,"e":36.7},{"t":8.97,"e":40},{"t":9.0,"e":31.7}
    ],
    "aar_lda": [
      {"t":0,"e":0},{"t":3.0,"e":35},{"t":3.03,"e":31.7},{"t":3.06,"e":33.3},{"t":3.09,"e":30},{"t":3.12,"e":21.7},{"t":3.15,"e":26.7},{"t":3.18,"e":23.3},{"t":3.21,"e":30},{"t":3.24,"e":25},{"t":3.27,"e":28.3},{"t":3.3,"e":23.3},{"t":3.33,"e":30},{"t":3.36,"e":25},{"t":3.39,"e":31.7},{"t":3.42,"e":23.3},{"t":3.45,"e":26.7},{"t":3.48,"e":21.7},{"t":3.51,"e":25},{"t":3.54,"e":16.7},{"t":3.57,"e":23.3},{"t":3.6,"e":26.7},{"t":3.63,"e":20},{"t":3.66,"e":25},{"t":3.69,"e":21.7},{"t":3.72,"e":25},{"t":3.75,"e":20},{"t":3.78,"e":21.7},{"t":3.81,"e":16.7},{"t":3.84,"e":20},{"t":3.87,"e":15},{"t":3.9,"e":18.3},{"t":3.93,"e":16.7},{"t":3.96,"e":20},{"t":3.99,"e":18.3},{"t":4.02,"e":23.3},{"t":4.05,"e":26.7},{"t":4.08,"e":28.3},{"t":4.11,"e":23.3},{"t":4.14,"e":20},{"t":4.17,"e":16.7},{"t":4.2,"e":20},{"t":4.23,"e":13.3},{"t":4.26,"e":16.7},{"t":4.29,"e":15},{"t":4.32,"e":13.3},{"t":4.35,"e":10},{"t":4.38,"e":6.7},{"t":4.41,"e":13.3},{"t":4.44,"e":10},{"t":4.47,"e":11.7},{"t":4.5,"e":8.3},{"t":4.53,"e":13.3},{"t":4.56,"e":10},{"t":4.59,"e":11.7},{"t":4.62,"e":8.3},{"t":4.65,"e":13.3},{"t":4.68,"e":16.7},{"t":4.71,"e":11.7},{"t":4.74,"e":18.3},{"t":4.77,"e":15},{"t":4.8,"e":21.7},{"t":4.83,"e":16.7},{"t":4.86,"e":18.3},{"t":4.89,"e":15},{"t":4.92,"e":21.7},{"t":4.95,"e":18.3},{"t":4.98,"e":16.7},{"t":5.01,"e":21.7},{"t":5.04,"e":26.7},{"t":5.07,"e":18.3},{"t":5.1,"e":15},{"t":5.13,"e":20},{"t":5.16,"e":16.7},{"t":5.19,"e":23.3},{"t":5.22,"e":18.3},{"t":5.25,"e":15},{"t":5.28,"e":21.7},{"t":5.31,"e":18.3},{"t":5.34,"e":20},{"t":5.37,"e":25},{"t":5.4,"e":21.7},{"t":5.43,"e":26.7},{"t":5.46,"e":20},{"t":5.49,"e":28.3},{"t":5.52,"e":23.3},{"t":5.55,"e":30},{"t":5.58,"e":25},{"t":5.61,"e":21.7},{"t":5.64,"e":26.7},{"t":5.67,"e":20},{"t":5.7,"e":25},{"t":5.73,"e":21.7},{"t":5.76,"e":23.3},{"t":5.79,"e":18.3},{"t":5.82,"e":28.3},{"t":5.85,"e":15},{"t":5.88,"e":21.7},{"t":5.91,"e":30},{"t":5.94,"e":18.3},{"t":5.97,"e":11.7},{"t":6.0,"e":16.7},{"t":6.03,"e":8.3},{"t":6.06,"e":13.3},{"t":6.09,"e":20},{"t":6.12,"e":11.7},{"t":6.15,"e":16.7},{"t":6.18,"e":21.7},{"t":6.21,"e":13.3},{"t":6.24,"e":18.3},{"t":6.27,"e":25},{"t":6.3,"e":16.7},{"t":6.33,"e":21.7},{"t":6.36,"e":18.3},{"t":6.39,"e":25},{"t":6.42,"e":20},{"t":6.45,"e":23.3},{"t":6.48,"e":16.7},{"t":6.51,"e":21.7},{"t":6.54,"e":26.7},{"t":6.57,"e":21.7},{"t":6.6,"e":30},{"t":6.63,"e":23.3},{"t":6.66,"e":26.7},{"t":6.69,"e":20},{"t":6.72,"e":23.3},{"t":6.75,"e":18.3},{"t":6.78,"e":21.7},{"t":6.81,"e":15},{"t":6.84,"e":20},{"t":6.87,"e":16.7},{"t":6.9,"e":18.3},{"t":6.93,"e":13.3},{"t":6.96,"e":16.7},{"t":6.99,"e":11.7},{"t":7.02,"e":15},{"t":7.05,"e":10},{"t":7.08,"e":16.7},{"t":7.11,"e":20},{"t":7.14,"e":15},{"t":7.17,"e":21.7},{"t":7.2,"e":18.3},{"t":7.23,"e":23.3},{"t":7.26,"e":16.7},{"t":7.29,"e":21.7},{"t":7.32,"e":26.7},{"t":7.35,"e":18.3},{"t":7.38,"e":15},{"t":7.41,"e":20},{"t":7.44,"e":13.3},{"t":7.47,"e":18.3},{"t":7.5,"e":21.7},{"t":7.53,"e":15},{"t":7.56,"e":18.3},{"t":7.59,"e":11.7},{"t":7.62,"e":15},{"t":7.65,"e":10},{"t":7.68,"e":13.3},{"t":7.71,"e":8.3},{"t":7.74,"e":11.7},{"t":7.77,"e":10},{"t":7.8,"e":13.3},{"t":7.83,"e":16.7},{"t":7.86,"e":13.3},{"t":7.89,"e":18.3},{"t":7.92,"e":20},{"t":7.95,"e":15},{"t":7.98,"e":13.3},{"t":8.01,"e":10},{"t":8.04,"e":13.3},{"t":8.07,"e":11.7},{"t":8.1,"e":15},{"t":8.13,"e":10},{"t":8.16,"e":13.3},{"t":8.19,"e":11.7},{"t":8.22,"e":15},{"t":8.25,"e":10},{"t":8.28,"e":13.3},{"t":8.31,"e":16.7},{"t":8.34,"e":11.7},{"t":8.37,"e":15},{"t":8.4,"e":10},{"t":8.43,"e":16.7},{"t":8.46,"e":13.3},{"t":8.49,"e":18.3},{"t":8.52,"e":11.7},{"t":8.55,"e":15},{"t":8.58,"e":10},{"t":8.61,"e":13.3},{"t":8.64,"e":16.7},{"t":8.67,"e":11.7},{"t":8.7,"e":18.3},{"t":8.73,"e":13.3},{"t":8.76,"e":10},{"t":8.79,"e":15},{"t":8.82,"e":11.7},{"t":8.85,"e":16.7},{"t":8.88,"e":13.3},{"t":8.91,"e":10},{"t":8.94,"e":15},{"t":8.97,"e":11.7},{"t":9.0,"e":16.7}
    ]
  },
  "vconcat": [
    {
      "concat": [
        {"width": 8, "height": 306, "view": {"fill": "#ffffff", "stroke": null}, "data": {"values": []}, "mark": "point"},
        {
          "width": 224.5, "height": 306,
          "view": {"stroke": "#7a7a7a", "strokeWidth": 1.5},
          "data": {"name": "texts"},
          "transform": [{"filter": "datum.panel === 'PST - RN'"}],
          "encoding": {
            "x": {"datum": 0, "type": "quantitative", "scale": {"domain": [0, 1], "range": [5.5, 219.5]}, "axis": null},
            "y": {"field": "line", "type": "quantitative", "scale": {"domain": [0, 1, 11], "range": [14.2, 50.3, 217], "nice": false, "zero": false}, "axis": null}
          },
          "layer": [
            {"transform": [{"filter": "datum.kind === 'head'"}], "mark": {"type": "rect", "height": 18.5, "color": "#31849b"}, "encoding": {"x2": {"datum": 1}}},
            {"transform": [{"filter": "datum.kind === 'head'"}], "mark": {"type": "text", "align": "left", "baseline": "middle", "dx": 2, "font": "DejaVu Sans", "fontSize": 11, "fontWeight": "bold", "color": "#ffffff"}, "encoding": {"text": {"field": "txt"}}},
            {"transform": [{"filter": "datum.kind === 'label'"}], "mark": {"type": "text", "align": "left", "baseline": "middle", "dx": 2.5, "font": "DejaVu Sans", "fontSize": 11, "fontWeight": "bold", "color": "#111"}, "encoding": {"text": {"field": "txt"}}},
            {"transform": [{"filter": "datum.kind === 'value'"}], "mark": {"type": "text", "align": "left", "baseline": "middle", "dx": 2.5, "font": "DejaVu Sans", "fontSize": 11, "color": "#111"}, "encoding": {"text": {"field": "txt"}}}
          ]
        },
        {
          "width": 434, "height": 306,
          "view": {"stroke": "#7a7a7a", "strokeWidth": 1.5},
          "title": {"text": "Error vs Tiempo", "offset": -16.5, "dx": 10.3},
          "data": {"name": "pst_rn"},
          "layer": [
            {"mark": {"type": "line", "interpolate": "step-after", "color": "#0000ff", "strokeWidth": 1.5},
             "encoding": {
               "x": {"field": "t", "type": "quantitative", "title": null, "scale": {"domain": [0, 9], "range": [68.2, 386.5], "nice": false, "zero": false},
                     "axis": {"orient": "bottom", "offset": -42.3, "values": [0,1,2,3,4,5,6,7,8,9], "format": "~r"}},
               "y": {"field": "e", "type": "quantitative", "title": null, "scale": {"domain": [45.5, 48], "range": [263.7, 24.5], "nice": false, "zero": false},
                     "axis": {"orient": "left", "offset": -68.2, "values": [45.5, 46, 46.5, 47, 47.5, 48], "format": "~r"}}
             }},
            {"mark": {"type": "line", "strokeOpacity": 0},
             "encoding": {
               "x": {"field": "t", "type": "quantitative", "title": null, "axis": {"orient": "top", "offset": -24.5, "values": [0,1,2,3,4,5,6,7,8,9], "labels": false}},
               "y": {"field": "e", "type": "quantitative", "title": null, "axis": {"orient": "right", "offset": -47.5, "values": [45.5, 46, 46.5, 47, 47.5, 48], "labels": false}}
             }}
          ],
          "resolve": {"axis": {"x": "independent", "y": "independent"}}
        },
        {"width": 8, "height": 299, "view": {"fill": "#ffffff", "stroke": null}, "data": {"values": []}, "mark": "point"},
        {
          "width": 224.5, "height": 299,
          "view": {"stroke": "#7a7a7a", "strokeWidth": 1.5},
          "data": {"name": "texts"},
          "transform": [{"filter": "datum.panel === 'PST - SVM'"}],
          "encoding": {
            "x": {"datum": 0, "type": "quantitative", "scale": {"domain": [0, 1], "range": [5.5, 219.5]}, "axis": null},
            "y": {"field": "line", "type": "quantitative", "scale": {"domain": [0, 1, 11], "range": [17.8, 52, 217], "nice": false, "zero": false}, "axis": null}
          },
          "layer": [
            {"transform": [{"filter": "datum.kind === 'head'"}], "mark": {"type": "rect", "height": 18.5, "color": "#31849b"}, "encoding": {"x2": {"datum": 1}}},
            {"transform": [{"filter": "datum.kind === 'head'"}], "mark": {"type": "text", "align": "left", "baseline": "middle", "dx": 2, "font": "DejaVu Sans", "fontSize": 11, "fontWeight": "bold", "color": "#ffffff"}, "encoding": {"text": {"field": "txt"}}},
            {"transform": [{"filter": "datum.kind === 'label'"}], "mark": {"type": "text", "align": "left", "baseline": "middle", "dx": 2.5, "font": "DejaVu Sans", "fontSize": 11, "fontWeight": "bold", "color": "#111"}, "encoding": {"text": {"field": "txt"}}},
            {"transform": [{"filter": "datum.kind === 'value'"}], "mark": {"type": "text", "align": "left", "baseline": "middle", "dx": 2.5, "font": "DejaVu Sans", "fontSize": 11, "color": "#111"}, "encoding": {"text": {"field": "txt"}}}
          ]
        },
        {
          "width": 434, "height": 299,
          "view": {"stroke": "#7a7a7a", "strokeWidth": 1.5},
          "title": {"text": "Error vs Tiempo", "offset": -19.5, "dx": 9.8},
          "data": {"name": "pst_svm"},
          "layer": [
            {"mark": {"type": "line", "interpolate": "step-after", "color": "#0000ff", "strokeWidth": 1.2},
             "encoding": {
               "x": {"field": "t", "type": "quantitative", "title": null, "scale": {"domain": [0, 9], "range": [68.5, 385], "nice": false, "zero": false},
                     "axis": {"orient": "bottom", "offset": -41.3, "values": [0,1,2,3,4,5,6,7,8,9], "format": "~r"}},
               "y": {"field": "e", "type": "quantitative", "title": null, "scale": {"domain": [0, 60], "range": [257.7, 26.3], "nice": false, "zero": false},
                     "axis": {"orient": "left", "offset": -68.5, "values": [0, 10, 20, 30, 40, 50, 60], "format": "~r"}}
             }},
            {"mark": {"type": "line", "strokeOpacity": 0},
             "encoding": {
               "x": {"field": "t", "type": "quantitative", "title": null, "axis": {"orient": "top", "offset": -26.3, "values": [0,1,2,3,4,5,6,7,8,9], "labels": false}},
               "y": {"field": "e", "type": "quantitative", "title": null, "axis": {"orient": "right", "offset": -49, "values": [0, 10, 20, 30, 40, 50, 60], "labels": false}}
             }}
          ],
          "resolve": {"axis": {"x": "independent", "y": "independent"}}
        },
        {"width": 8, "height": 304, "view": {"fill": "#ffffff", "stroke": null}, "data": {"values": []}, "mark": "point"},
        {
          "width": 224.5, "height": 304,
          "view": {"stroke": "#7a7a7a", "strokeWidth": 1.5},
          "data": {"name": "texts"},
          "transform": [{"filter": "datum.panel === 'PST - LDA'"}],
          "encoding": {
            "x": {"datum": 0, "type": "quantitative", "scale": {"domain": [0, 1], "range": [5.5, 219.5]}, "axis": null},
            "y": {"field": "line", "type": "quantitative", "scale": {"domain": [0, 1, 11], "range": [12.5, 47.3, 212], "nice": false, "zero": false}, "axis": null}
          },
          "layer": [
            {"transform": [{"filter": "datum.kind === 'head'"}], "mark": {"type": "rect", "height": 18.5, "color": "#31849b"}, "encoding": {"x2": {"datum": 1}}},
            {"transform": [{"filter": "datum.kind === 'head'"}], "mark": {"type": "text", "align": "left", "baseline": "middle", "dx": 2, "font": "DejaVu Sans", "fontSize": 11, "fontWeight": "bold", "color": "#ffffff"}, "encoding": {"text": {"field": "txt"}}},
            {"transform": [{"filter": "datum.kind === 'label'"}], "mark": {"type": "text", "align": "left", "baseline": "middle", "dx": 2.5, "font": "DejaVu Sans", "fontSize": 11, "fontWeight": "bold", "color": "#111"}, "encoding": {"text": {"field": "txt"}}},
            {"transform": [{"filter": "datum.kind === 'value'"}], "mark": {"type": "text", "align": "left", "baseline": "middle", "dx": 2.5, "font": "DejaVu Sans", "fontSize": 11, "color": "#111"}, "encoding": {"text": {"field": "txt"}}}
          ]
        },
        {
          "width": 434, "height": 304,
          "view": {"stroke": "#7a7a7a", "strokeWidth": 1.5},
          "title": {"text": "Error vs Tiempo", "offset": -16, "dx": 11.8},
          "data": {"name": "pst_lda"},
          "layer": [
            {"mark": {"type": "line", "interpolate": "step-after", "color": "#0000ff", "strokeWidth": 1.2},
             "encoding": {
               "x": {"field": "t", "type": "quantitative", "title": null, "scale": {"domain": [0, 9], "range": [64.5, 393], "nice": false, "zero": false},
                     "axis": {"orient": "bottom", "offset": -39, "values": [0,1,2,3,4,5,6,7,8,9], "format": "~r"}},
               "y": {"field": "e", "type": "quantitative", "title": null, "scale": {"domain": [0, 50], "range": [265, 22], "nice": false, "zero": false},
                     "axis": {"orient": "left", "offset": -64.5, "values": [0, 5, 10, 15, 20, 25, 30, 35, 40, 45, 50], "format": "~r"}}
             }},
            {"mark": {"type": "line", "strokeOpacity": 0},
             "encoding": {
               "x": {"field": "t", "type": "quantitative", "title": null, "axis": {"orient": "top", "offset": -22, "values": [0,1,2,3,4,5,6,7,8,9], "labels": false}},
               "y": {"field": "e", "type": "quantitative", "title": null, "axis": {"orient": "right", "offset": -41, "values": [0, 5, 10, 15, 20, 25, 30, 35, 40, 45, 50], "labels": false}}
             }}
          ],
          "resolve": {"axis": {"x": "independent", "y": "independent"}}
        }
      ],
      "columns": 3,
      "spacing": 0,
      "bounds": "flush",
      "resolve": {"scale": {"x": "independent", "y": "independent"}, "axis": {"x": "independent", "y": "independent"}}
    },
    {
      "concat": [
        {
          "width": 224.5, "height": 289,
          "view": {"stroke": "#7a7a7a", "strokeWidth": 1.5},
          "data": {"name": "texts"},
          "transform": [{"filter": "datum.panel === 'AAR - RN'"}],
          "encoding": {
            "x": {"datum": 0, "type": "quantitative", "scale": {"domain": [0, 1], "range": [5.5, 219.5]}, "axis": null},
            "y": {"field": "line", "type": "quantitative", "scale": {"domain": [0, 1, 12], "range": [13.7, 44.7, 217.7], "nice": false, "zero": false}, "axis": null}
          },
          "layer": [
            {"transform": [{"filter": "datum.kind === 'head'"}], "mark": {"type": "rect", "height": 16.8, "color": "#ffc000"}, "encoding": {"x2": {"datum": 1}}},
            {"transform": [{"filter": "datum.kind === 'head'"}], "mark": {"type": "text", "align": "left", "baseline": "middle", "dx": 2, "font": "DejaVu Sans", "fontSize": 11, "fontWeight": "bold", "color": "#111"}, "encoding": {"text": {"field": "txt"}}},
            {"transform": [{"filter": "datum.kind === 'label'"}], "mark": {"type": "text", "align": "left", "baseline": "middle", "dx": 2, "font": "DejaVu Sans", "fontSize": 11, "fontWeight": "bold", "color": "#111"}, "encoding": {"text": {"field": "txt"}}},
            {"transform": [{"filter": "datum.kind === 'value'"}], "mark": {"type": "text", "align": "left", "baseline": "middle", "dx": 2, "font": "DejaVu Sans", "fontSize": 11, "color": "#111"}, "encoding": {"text": {"field": "txt"}}}
          ]
        },
        {
          "width": 438.5, "height": 289,
          "view": {"stroke": "#7a7a7a", "strokeWidth": 1.5},
          "title": {"text": "Error vs Tiempo", "offset": -15.5, "dx": 9},
          "data": {"name": "aar_rn"},
          "layer": [
            {"mark": {"type": "line", "interpolate": "step-after", "color": "#0000ff", "strokeWidth": 1.2},
             "encoding": {
               "x": {"field": "t", "type": "quantitative", "title": null, "scale": {"domain": [0, 9], "range": [64.1, 392.5], "nice": false, "zero": false},
                     "axis": {"orient": "bottom", "offset": -38, "values": [0,1,2,3,4,5,6,7,8,9], "format": "~r"}},
               "y": {"field": "e", "type": "quantitative", "title": null, "scale": {"domain": [0, 60], "range": [251, 22], "nice": false, "zero": false},
                     "axis": {"orient": "left", "offset": -64.1, "values": [0, 10, 20, 30, 40, 50, 60], "format": "~r"}}
             }},
            {"mark": {"type": "line", "strokeOpacity": 0},
             "encoding": {
               "x": {"field": "t", "type": "quantitative", "title": null, "axis": {"orient": "top", "offset": -22, "values": [0,1,2,3,4,5,6,7,8,9], "labels": false}},
               "y": {"field": "e", "type": "quantitative", "title": null, "axis": {"orient": "right", "offset": -46, "values": [0, 10, 20, 30, 40, 50, 60], "labels": false}}
             }}
          ],
          "resolve": {"axis": {"x": "independent", "y": "independent"}}
        },
        {
          "width": 224.5, "height": 272,
          "view": {"stroke": "#7a7a7a", "strokeWidth": 1.5},
          "data": {"name": "texts"},
          "transform": [{"filter": "datum.panel === 'AAR - SVM'"}],
          "encoding": {
            "x": {"datum": 0, "type": "quantitative", "scale": {"domain": [0, 1], "range": [5.5, 219.5]}, "axis": null},
            "y": {"field": "line", "type": "quantitative", "scale": {"domain": [0, 1, 12], "range": [13.3, 45.7, 218], "nice": false, "zero": false}, "axis": null}
          },
          "layer": [
            {"transform": [{"filter": "datum.kind === 'head'"}], "mark": {"type": "rect", "height": 16.8, "color": "#ffc000"}, "encoding": {"x2": {"datum": 1}}},
            {"transform": [{"filter": "datum.kind === 'head'"}], "mark": {"type": "text", "align": "left", "baseline": "middle", "dx": 2, "font": "DejaVu Sans", "fontSize": 11, "fontWeight": "bold", "color": "#111"}, "encoding": {"text": {"field": "txt"}}},
            {"transform": [{"filter": "datum.kind === 'label'"}], "mark": {"type": "text", "align": "left", "baseline": "middle", "dx": 2, "font": "DejaVu Sans", "fontSize": 11, "fontWeight": "bold", "color": "#111"}, "encoding": {"text": {"field": "txt"}}},
            {"transform": [{"filter": "datum.kind === 'value'"}], "mark": {"type": "text", "align": "left", "baseline": "middle", "dx": 2, "font": "DejaVu Sans", "fontSize": 11, "color": "#111"}, "encoding": {"text": {"field": "txt"}}}
          ]
        },
        {
          "width": 438.5, "height": 272,
          "view": {"stroke": "#7a7a7a", "strokeWidth": 1.5},
          "title": {"text": "Error vs Tiempo", "offset": -15, "dx": 9.2},
          "data": {"name": "aar_svm"},
          "layer": [
            {"mark": {"type": "line", "interpolate": "step-after", "color": "#0000ff", "strokeWidth": 1.2},
             "encoding": {
               "x": {"field": "t", "type": "quantitative", "title": null, "scale": {"domain": [0, 9], "range": [67.3, 389.5], "nice": false, "zero": false},
                     "axis": {"orient": "bottom", "offset": -24.7, "values": [0,1,2,3,4,5,6,7,8,9], "format": "~r"}},
               "y": {"field": "e", "type": "quantitative", "title": null, "scale": {"domain": [0, 70], "range": [247.3, 22], "nice": false, "zero": false},
                     "axis": {"orient": "left", "offset": -67.3, "values": [0, 10, 20, 30, 40, 50, 60, 70], "format": "~r"}}
             }},
            {"mark": {"type": "line", "strokeOpacity": 0},
             "encoding": {
               "x": {"field": "t", "type": "quantitative", "title": null, "axis": {"orient": "top", "offset": -22, "values": [0,1,2,3,4,5,6,7,8,9], "labels": false}},
               "y": {"field": "e", "type": "quantitative", "title": null, "axis": {"orient": "right", "offset": -49, "values": [0, 10, 20, 30, 40, 50, 60, 70], "labels": false}}
             }}
          ],
          "resolve": {"axis": {"x": "independent", "y": "independent"}}
        },
        {
          "width": 224.5, "height": 285,
          "view": {"stroke": "#7a7a7a", "strokeWidth": 1.5},
          "data": {"name": "texts"},
          "transform": [{"filter": "datum.panel === 'AAR - LDA'"}],
          "encoding": {
            "x": {"datum": 0, "type": "quantitative", "scale": {"domain": [0, 1], "range": [5.5, 219.5]}, "axis": null},
            "y": {"field": "line", "type": "quantitative", "scale": {"domain": [0, 1, 12], "range": [18, 51, 232.7], "nice": false, "zero": false}, "axis": null}
          },
          "layer": [
            {"transform": [{"filter": "datum.kind === 'head'"}], "mark": {"type": "rect", "height": 16.8, "color": "#ffc000"}, "encoding": {"x2": {"datum": 1}}},
            {"transform": [{"filter": "datum.kind === 'head'"}], "mark": {"type": "text", "align": "left", "baseline": "middle", "dx": 2, "font": "DejaVu Sans", "fontSize": 11, "fontWeight": "bold", "color": "#111"}, "encoding": {"text": {"field": "txt"}}},
            {"transform": [{"filter": "datum.kind === 'label'"}], "mark": {"type": "text", "align": "left", "baseline": "middle", "dx": 2, "font": "DejaVu Sans", "fontSize": 11, "fontWeight": "bold", "color": "#111"}, "encoding": {"text": {"field": "txt"}}},
            {"transform": [{"filter": "datum.kind === 'value'"}], "mark": {"type": "text", "align": "left", "baseline": "middle", "dx": 2, "font": "DejaVu Sans", "fontSize": 11, "color": "#111"}, "encoding": {"text": {"field": "txt"}}}
          ]
        },
        {
          "width": 438.5, "height": 285,
          "view": {"stroke": "#7a7a7a", "strokeWidth": 1.5},
          "title": {"text": "Error vs Tiempo", "offset": -20.5, "dx": 9.4},
          "data": {"name": "aar_lda"},
          "layer": [
            {"mark": {"type": "line", "interpolate": "step-after", "color": "#0000ff", "strokeWidth": 1.2},
             "encoding": {
               "x": {"field": "t", "type": "quantitative", "title": null, "scale": {"domain": [0, 9], "range": [69, 388.3], "nice": false, "zero": false},
                     "axis": {"orient": "bottom", "offset": -22.5, "values": [0,1,2,3,4,5,6,7,8,9], "format": "~r"}},
               "y": {"field": "e", "type": "quantitative", "title": null, "scale": {"domain": [0, 35], "range": [262.5, 26.7], "nice": false, "zero": false},
                     "axis": {"orient": "left", "offset": -69, "values": [0, 5, 10, 15, 20, 25, 30, 35], "format": "~r"}}
             }},
            {"mark": {"type": "line", "strokeOpacity": 0},
             "encoding": {
               "x": {"field": "t", "type": "quantitative", "title": null, "axis": {"orient": "top", "offset": -26.7, "values": [0,1,2,3,4,5,6,7,8,9], "labels": false}},
               "y": {"field": "e", "type": "quantitative", "title": null, "axis": {"orient": "right", "offset": -50.2, "values": [0, 5, 10, 15, 20, 25, 30, 35], "labels": false}}
             }}
          ],
          "resolve": {"axis": {"x": "independent", "y": "independent"}}
        }
      ],
      "columns": 2,
      "spacing": 0,
      "bounds": "flush",
      "resolve": {"scale": {"x": "independent", "y": "independent"}, "axis": {"x": "independent", "y": "independent"}}
    }
  ],
  "spacing": 5.5,
  "resolve": {"scale": {"x": "independent", "y": "independent"}, "axis": {"x": "independent", "y": "independent"}}
}
